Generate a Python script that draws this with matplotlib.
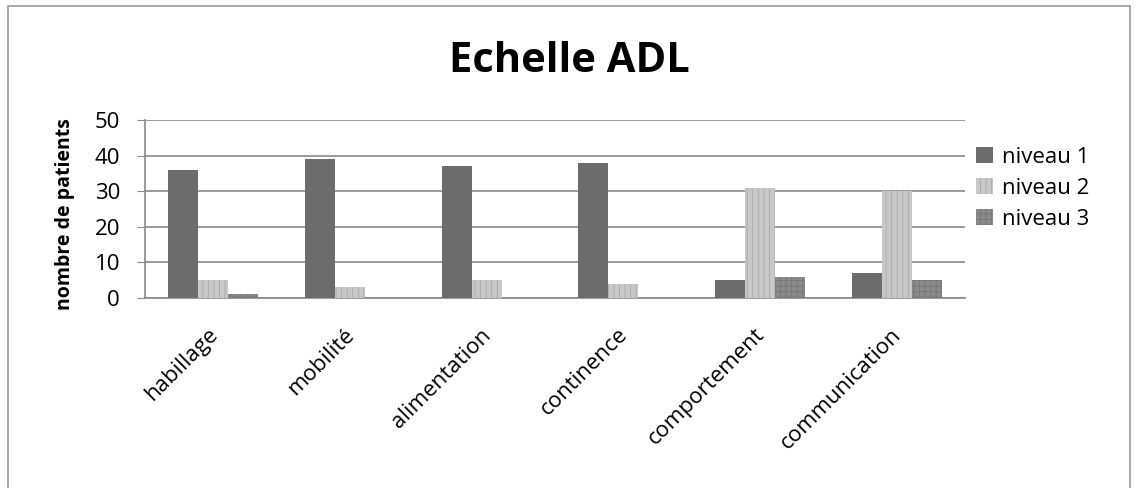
import matplotlib.pyplot as plt
import matplotlib.patches as mpatches
import matplotlib.transforms as mtransforms
import numpy as np

categories = ["habillage", "mobilité", "alimentation", "continence", "comportement", "communication"]
niveau1 = [36, 39, 37, 38, 5, 7]
niveau2 = [5, 3, 5, 4, 31, 30]
niveau3 = [1, 0, 0, 0, 6, 5]
series_names = ["niveau 1", "niveau 2", "niveau 3"]

plt.rcParams['font.family'] = ['Open Sans', 'DejaVu Sans']
plt.rcParams['hatch.linewidth'] = 0.6

fig = plt.figure(figsize=(11.38, 4.88), dpi=100)
fig.patch.set_facecolor("white")

# outer frame like the Excel chart border
frame = mpatches.Rectangle((8 / 1138, -0.05), 1122 / 1138, 1.037, transform=fig.transFigure,
                           fill=False, edgecolor="#9a9a9a", linewidth=1.2)
fig.patches.append(frame)

ax = fig.add_axes([145 / 1138, 1 - 298 / 488, 820 / 1138, 178 / 488])

x = np.arange(len(categories))
w = 0.22
colors = ["#6c6c6c", "#c8c8c8", "#8a8a8a"]
hatches = [None, "|||", "+++"]
hatch_cols = ["#6c6c6c", "#a8a8a8", "#767676"]

for i, vals in enumerate([niveau1, niveau2, niveau3]):
    ax.bar(x + (i - 1) * w, vals, w, color=colors[i], label=series_names[i],
           edgecolor=hatch_cols[i], linewidth=0, hatch=hatches[i], zorder=3)

ax.set_xlim(-0.5, len(categories) - 0.5)
ax.set_ylim(0, 50)
ax.set_yticks([0, 10, 20, 30, 40, 50])
ax.yaxis.grid(True, color="#8a8a8a", linewidth=1.2, zorder=0)
ax.set_axisbelow(True)

for s in ["top", "right"]:
    ax.spines[s].set_visible(False)
ax.spines["left"].set_color("#8a8a8a")
ax.spines["bottom"].set_color("#8a8a8a")
ax.spines["left"].set_linewidth(1.2)
ax.spines["bottom"].set_linewidth(1.2)

ax.tick_params(axis="y", length=6, color="#8a8a8a", labelsize=16, pad=12)
ax.tick_params(axis="x", length=0, labelsize=16, pad=19)
ax.set_xticks(x)
ax.set_xticklabels(categories, rotation=45, ha="right", rotation_mode="anchor")
shift = mtransforms.ScaledTranslation(-6 / 100, 0, fig.dpi_scale_trans)
for lab in ax.get_xticklabels():
    lab.set_transform(lab.get_transform() + shift)

ax.set_ylabel("nombre de patients", fontsize=14, fontweight="bold", labelpad=10)
ax.yaxis.set_label_coords(-0.085, 0.47)

fig.text(0.5, 1 - 62 / 488, "Echelle ADL", ha="center", va="center",
         fontsize=30, fontweight="bold")

handles = [mpatches.Patch(facecolor=colors[i], edgecolor=hatch_cols[i], linewidth=0,
                          hatch=hatches[i], label=series_names[i]) for i in range(3)]
fig.legend(handles=handles, loc="upper left", bbox_to_anchor=(956 / 1138, 1 - 127 / 488),
           frameon=False, fontsize=16, handlelength=0.75, handleheight=0.75,
           handletextpad=0.4, labelspacing=0.45)

fig.savefig("out.png", dpi=100, facecolor="white")
